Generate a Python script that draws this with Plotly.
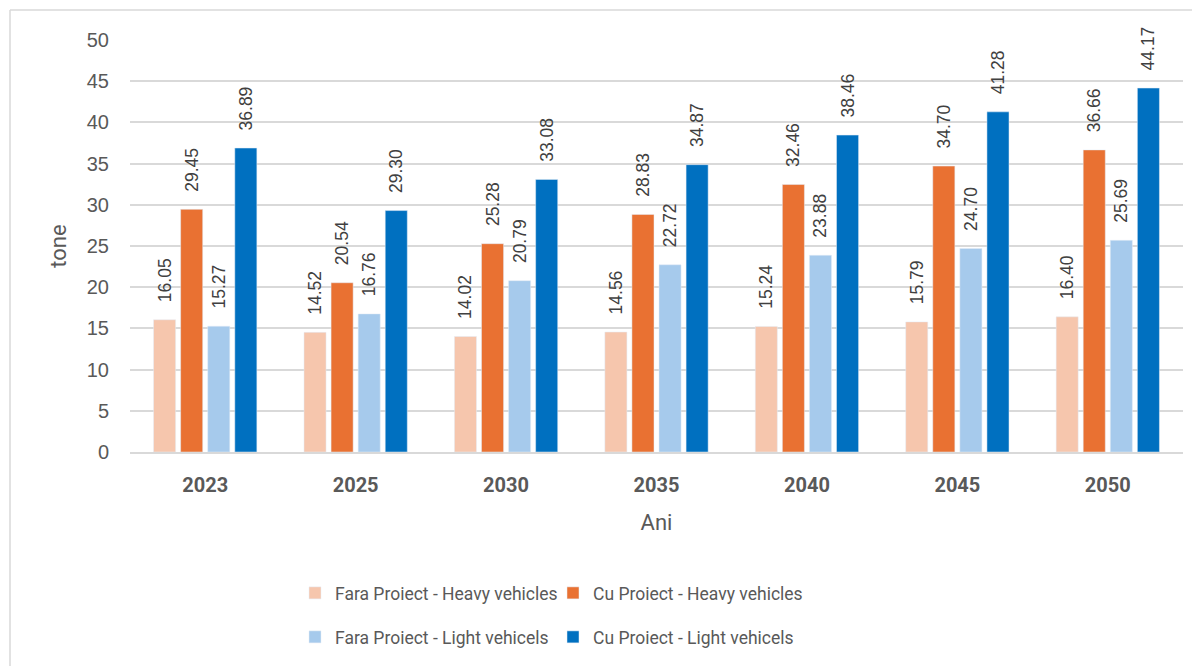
import plotly.graph_objects as go

years = ["2023", "2025", "2030", "2035", "2040", "2045", "2050"]
fara_heavy = [16.05, 14.52, 14.02, 14.56, 15.24, 15.79, 16.40]
cu_heavy = [29.45, 20.54, 25.28, 28.83, 32.46, 34.70, 36.66]
fara_light = [15.27, 16.76, 20.79, 22.72, 23.88, 24.70, 25.69]
cu_light = [36.89, 29.30, 33.08, 34.87, 38.46, 41.28, 44.17]

series = [
    ("Fara Proiect - Heavy vehicles", fara_heavy, "#F6C6AD", "legend"),
    ("Cu Proiect - Heavy vehicles", cu_heavy, "#E97132", "legend2"),
    ("Fara Proiect - Light vehicels", fara_light, "#A6CAEC", "legend3"),
    ("Cu Proiect - Light vehicels", cu_light, "#0070C0", "legend4"),
]

PAD = "\u00a0\u00a0\u00a0"

fig = go.Figure()
for name, vals, color, leg in series:
    fig.add_trace(go.Bar(
        x=years, y=vals, name=name, marker_color=color,
        text=[f"{PAD}{v:.2f}" for v in vals], textposition="outside",
        textangle=-90, constraintext="none", cliponaxis=False,
        textfont=dict(family="Liberation Sans, Arial", size=17.5, color="#404040"),
        legend=leg, showlegend=True,
    ))

# page offset of 8px (body margin)
OFF = 8
W, H = 1192, 658
L, T = 130 - OFF, 40 - OFF
B = H - (453 - OFF)
R = W - (1183 - OFF)
pw, ph = W - L - R, H - T - B

def px_x(x):
    return (x - OFF - L) / pw

def px_y(y):
    return (H - B - (y - OFF)) / ph

legfont = dict(family="Roboto", size=17.5, color="#595959")

def leg(xpx, ypx):
    return dict(orientation="h", x=px_x(xpx), y=px_y(ypx), xanchor="left", yanchor="middle",
                font=legfont, bgcolor="rgba(0,0,0,0)", itemclick=False, visible=True)

fig.update_layout(
    width=W, height=H,
    showlegend=True,
    margin=dict(l=L, r=R, t=T, b=B),
    paper_bgcolor="white", plot_bgcolor="white",
    barmode="group", bargap=0.28, bargroupgap=0.185,
    font=dict(family="Liberation Sans, Arial", color="#595959"),
    xaxis=dict(
        showgrid=False, showline=True, linecolor="#D9D9D9", linewidth=1.5,
        tickfont=dict(family="Roboto", size=20, color="#595959", weight="bold"),
        ticks="", ticklabelstandoff=14,
        title=dict(text="Ani", font=dict(family="Roboto", size=22, color="#595959"), standoff=19),
    ),
    yaxis=dict(
        range=[0, 50], dtick=5, showgrid=True, gridcolor="#D9D9D9", gridwidth=1.5,
        zeroline=False, showline=False,
        tickfont=dict(family="Liberation Sans, Arial", size=20, color="#595959"),
        ticklabelstandoff=20,
        title=dict(text="tone", font=dict(family="Roboto", size=22, color="#595959"), standoff=14),
    ),
    legend=leg(295, 593),
    legend2=leg(553, 593),
    legend3=leg(295, 637),
    legend4=leg(553, 637),
    shapes=[
        dict(type="line", xref="paper", yref="paper", x0=px_x(10), x1=px_x(10),
             y0=px_y(10), y1=px_y(700), line=dict(color="#D9D9D9", width=1.5)),
        dict(type="line", xref="paper", yref="paper", x0=px_x(10), x1=px_x(1210),
             y0=px_y(10), y1=px_y(10), line=dict(color="#D9D9D9", width=1.5)),
    ],
)

fig.write_html("out.html")
